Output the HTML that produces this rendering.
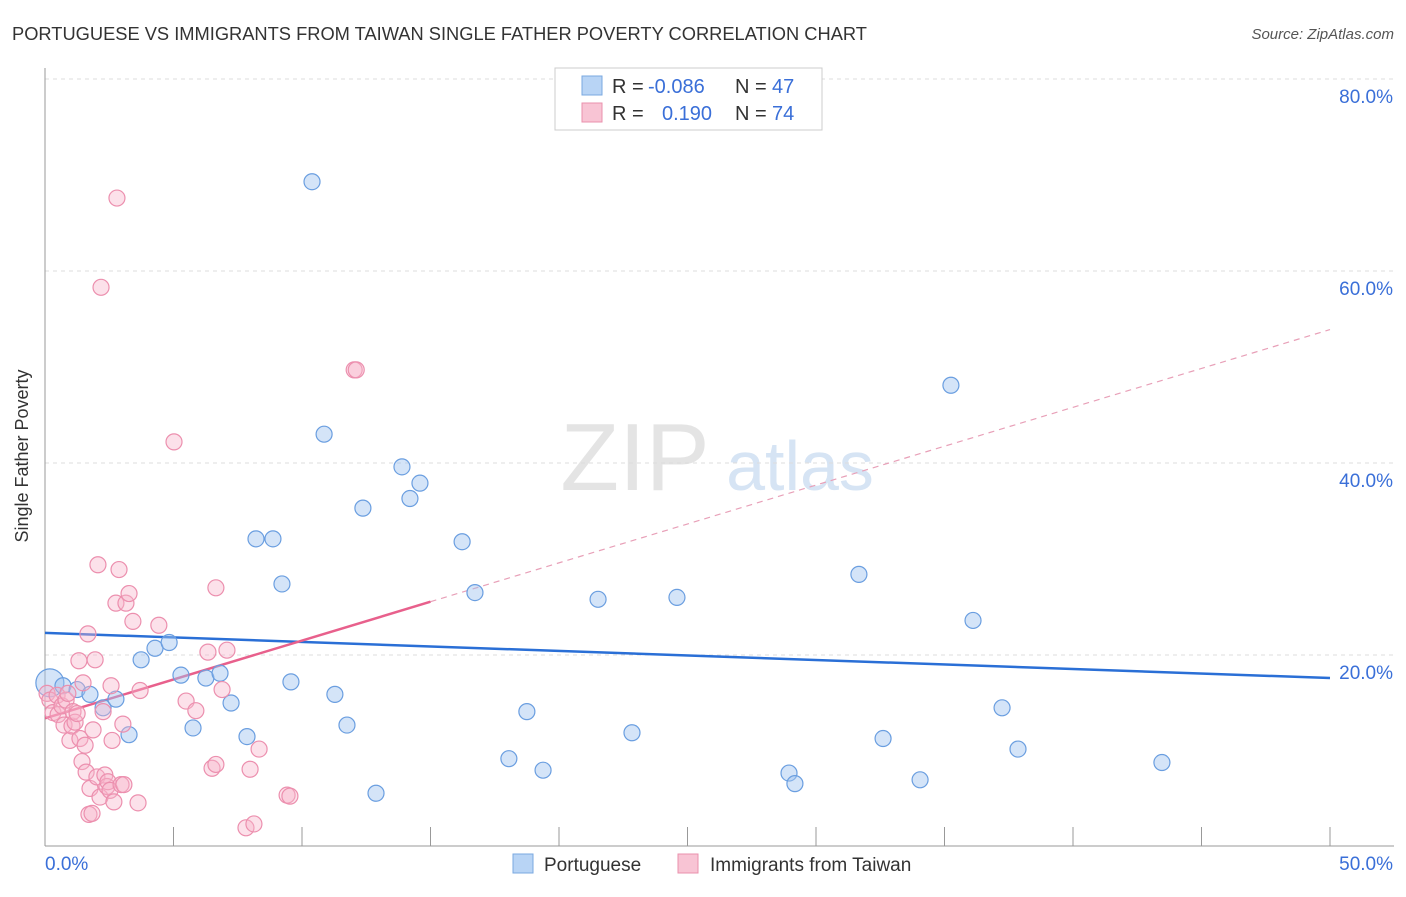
<!DOCTYPE html>
<html><head><meta charset="utf-8"><style>
body{margin:0;background:#fff;font-family:"Liberation Sans",sans-serif;}
svg text{font-family:"Liberation Sans",sans-serif;}
</style></head><body>
<svg id="chart" width="1406" height="892" xmlns="http://www.w3.org/2000/svg">
<text x="12" y="40" font-size="18.3" fill="#333">PORTUGUESE VS IMMIGRANTS FROM TAIWAN SINGLE FATHER POVERTY CORRELATION CHART</text>
<text x="1394" y="39" font-size="15" fill="#555" text-anchor="end" font-style="italic">Source: ZipAtlas.com</text>
<text x="28" y="456" font-size="18" fill="#333" text-anchor="middle" transform="rotate(-90 28 456)">Single Father Poverty</text>
<g><text x="635" y="490" font-size="96" fill="#e4e4e4" text-anchor="middle" font-family="Liberation Serif">ZIP</text><text x="800" y="490" font-size="70" fill="#d6e4f4" text-anchor="middle">atlas</text></g>
<g id="grid"></g><g id="axes"></g><g id="lines"></g><g id="pts"></g>
<g>
<rect x="555" y="68" width="267" height="62" fill="#fff" stroke="#ccc"/>
<rect x="582" y="76" width="20" height="19" fill="#b8d4f5" stroke="#7aa8e0"/>
<rect x="582" y="103" width="20" height="19" fill="#f8c4d4" stroke="#ea90ac"/>
<text y="93" font-size="20" fill="#333"><tspan x="612">R =</tspan><tspan x="648" fill="#3a6fd8">-0.086</tspan><tspan x="735">N =</tspan><tspan x="772" fill="#3a6fd8">47</tspan></text>
<text y="120" font-size="20" fill="#333"><tspan x="612">R =</tspan><tspan x="662" fill="#3a6fd8">0.190</tspan><tspan x="735">N =</tspan><tspan x="772" fill="#3a6fd8">74</tspan></text>
</g>
<g>
<rect x="513" y="854" width="20" height="19" fill="#b8d4f5" stroke="#7aa8e0"/>
<text x="544" y="871" font-size="19" fill="#333">Portuguese</text>
<rect x="678" y="854" width="20" height="19" fill="#f8c4d4" stroke="#ea90ac"/>
<text x="710" y="871" font-size="19" fill="#333">Immigrants from Taiwan</text>
</g>
</svg>
<script>
const yTicks=[20,40,60,80];
const yTickLabels=["20.0%","40.0%","60.0%","80.0%"];
const xTickVals=[0,5,10,15,20,25,30,35,40,45,50];
const blueX=[0.19,0.70,1.25,1.75,2.26,2.76,3.27,3.74,4.28,4.83,5.29,5.76,6.26,6.81,7.24,7.86,8.21,8.87,9.22,9.57,10.39,10.86,11.28,11.75,12.37,12.88,13.89,14.20,14.59,16.23,16.73,18.05,18.75,19.38,21.52,22.84,24.59,28.95,29.18,31.67,32.61,34.05,35.25,36.11,37.24,37.86,43.46];
const blueY=[17.1,16.8,16.4,15.9,14.5,15.4,11.7,19.5,20.7,21.3,17.9,12.4,17.6,18.1,15.0,11.5,32.1,32.1,27.4,17.2,69.3,43.0,15.9,12.7,35.3,5.6,39.6,36.3,37.9,31.8,26.5,9.2,14.1,8.0,25.8,11.9,26.0,7.7,6.6,28.4,11.3,7.0,48.1,23.6,14.5,10.2,8.8];
const pinkX=[0.08,0.19,0.31,0.47,0.51,0.66,0.74,0.82,0.89,0.97,1.05,1.09,1.17,1.25,1.32,1.36,1.44,1.48,1.56,1.60,1.67,1.71,1.75,1.83,1.87,1.95,2.02,2.06,2.14,2.18,2.26,2.33,2.41,2.45,2.53,2.57,2.61,2.68,2.76,2.80,2.88,2.96,3.03,3.07,3.15,3.27,3.42,3.62,3.70,4.43,5.02,5.49,5.87,6.34,6.50,6.65,6.65,6.89,7.08,7.82,7.98,8.13,8.33,9.42,9.53,12.03,12.11];
const pinkY=[16.0,15.3,14.0,15.8,13.8,14.7,12.7,15.3,16.0,11.1,12.6,14.1,13.0,13.9,19.4,11.3,8.9,17.1,10.6,7.8,22.2,3.4,6.1,3.5,12.2,19.5,7.3,29.4,5.2,58.3,14.1,7.5,6.3,6.8,5.9,16.8,11.1,4.7,25.4,67.6,28.9,6.5,12.8,6.5,25.4,26.4,23.5,4.6,16.3,23.1,42.2,15.2,14.2,20.3,8.2,8.6,27.0,16.4,20.5,2.0,8.1,2.4,10.2,5.4,5.3,49.7,49.7];
const blueTrend=[22.3,17.6];
const pinkTrend=[13.4,53.9];
const X=v=>45+v*(1285/50), Y=v=>847-v*9.6;
const NS="http://www.w3.org/2000/svg";
function mk(p,tag,a){const e=document.createElementNS(NS,tag);for(const k in a)e.setAttribute(k,a[k]);p.appendChild(e);return e;}
const grid=document.getElementById('grid'),axes=document.getElementById('axes'),lines=document.getElementById('lines'),pts=document.getElementById('pts');
yTicks.forEach((v,i)=>{
 const l=mk(grid,'line',{x1:45,x2:1394,y1:Y(v),y2:Y(v),stroke:'#ddd','stroke-dasharray':'4,4'});
 
 
 const t=mk(axes,'text',{x:1393,y:Y(v)+24,'font-size':19,fill:'#3a6fd8','text-anchor':'end'});t.textContent=yTickLabels[i];
 
 
});
const ya=mk(axes,'line',{x1:45,x2:45,y1:68,y2:846,stroke:'#999'});


const xa=mk(axes,'line',{x1:45,x2:1394,y1:846,y2:846,stroke:'#999'});


xTickVals.forEach(v=>{const t=mk(axes,'line',{x1:X(v),x2:X(v),y1:827,y2:846,stroke:'#999'});
 
 });
const xl0=mk(axes,'text',{x:45,y:870,'font-size':19,fill:'#3a6fd8'});xl0.textContent='0.0%';


const xl1=mk(axes,'text',{x:1393,y:870,'font-size':19,fill:'#3a6fd8','text-anchor':'end'});xl1.textContent='50.0%';


blueX.forEach((x,i)=>{const c=mk(pts,'circle',{cx:X(x),cy:Y(blueY[i]),r:i==0?14:8,fill:'rgba(160,196,240,0.45)',stroke:'#6a9ee0','stroke-width':1.2});
 
 });
pinkX.forEach((x,i)=>{const c=mk(pts,'circle',{cx:X(x),cy:Y(pinkY[i]),r:8,fill:'rgba(248,180,202,0.4)',stroke:'#ec8fae','stroke-width':1.2});
 
 });
const bl=mk(lines,'line',{x1:X(0),y1:Y(blueTrend[0]),x2:X(50),y2:Y(blueTrend[1]),stroke:'#2a6fd6','stroke-width':2.5});


const pAt=x=>pinkTrend[0]+(pinkTrend[1]-pinkTrend[0])*x/50;
const ps=mk(lines,'line',{x1:X(0),y1:Y(pAt(0)),x2:X(15),y2:Y(pAt(15)),stroke:'#e8608c','stroke-width':2.5});


const pd=mk(lines,'line',{x1:X(15),y1:Y(pAt(15)),x2:X(50),y2:Y(pAt(50)),stroke:'#e8a0b8','stroke-width':1.2,'stroke-dasharray':'6,5'});


</script>
</body></html>
